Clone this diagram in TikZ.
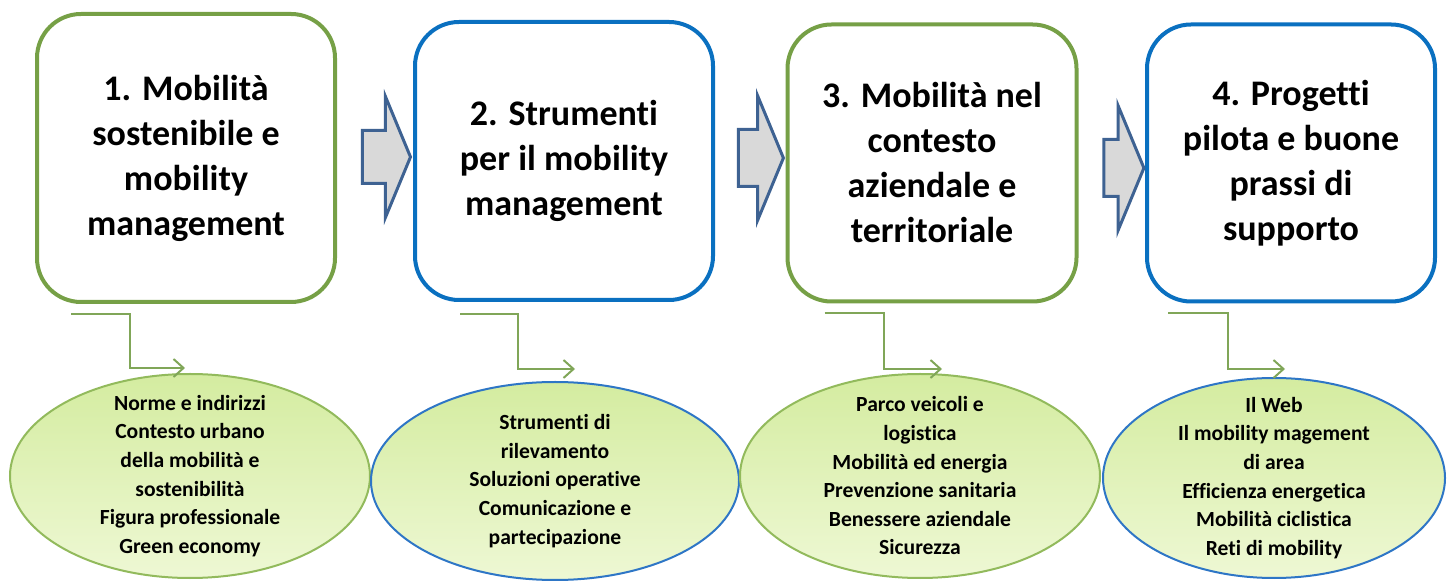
\documentclass[tikz,border=0pt]{standalone}
\usepackage{fontspec}
\setmainfont{Carlito}[Ligatures=NoCommon]
\usepackage{tikz}
\usetikzlibrary{shapes,arrows.meta,calc,positioning}
\definecolor{boxgreen}{RGB}{118,160,70}
\definecolor{boxblue}{RGB}{10,112,192}
\definecolor{arredge}{RGB}{62,98,146}
\definecolor{arrfill}{RGB}{217,217,217}
\definecolor{linkgreen}{RGB}{128,166,88}
\definecolor{ellgreen}{RGB}{146,186,92}
\definecolor{ellblue}{RGB}{46,118,198}
\definecolor{elltop}{RGB}{212,236,160}
\definecolor{ellbot}{RGB}{238,248,212}
\tikzset{
    x=0.5pt,y=-0.5pt,
    step box/.style ={rectangle, rounded corners=22pt, line width=2pt, draw=#1, align=center, inner sep=0pt,
        font=\fontsize{18}{22.5}\selectfont\bfseries},
    topic/.style ={ellipse, line width=1pt, draw=#1, top color=elltop, bottom color=ellbot, inner sep=0pt},
    lbl/.style = {align=center, inner sep=0pt, font=\fontsize{10.8}{14.3}\selectfont\bfseries},
    block arrow/.style={single arrow, draw=arredge, fill=arrfill, line width=1.5pt, inner xsep=0pt,
        single arrow tip angle=135, single arrow head extend=17pt}
    ,
    link/.style={draw=linkgreen, line width=1pt, -{Straight Barb[length=5pt,width=9pt]}}
}
\begin{document}
\begin{tikzpicture}
    \useasboundingbox (0,0) rectangle (1449,581);

    %%Boxes
    \node[step box=boxgreen, minimum width=149pt, minimum height=144pt] (box1) at (186,158)
        {1. Mobilità\\sostenibile e\\mobility\\management};
    \node[step box=boxblue, minimum width=149pt, minimum height=139pt] (box2) at (564,161)
        {2. Strumenti\\per il mobility\\management};
    \node[step box=boxgreen, minimum width=144.5pt, minimum height=138.5pt] (box3) at (932,163)
        {3. Mobilità nel\\contesto\\aziendale e\\territoriale};
    \node[step box=boxblue, minimum width=144pt, minimum height=138.5pt] (box4) at (1291,163)
        {4. Progetti\\pilota e buone\\prassi di\\supporto};

    %%Block arrows
    \node[block arrow, minimum height=24pt, inner ysep=12.5pt] (arr1) at (381,157) {};
    \node[block arrow, minimum height=22.5pt, inner ysep=13.5pt] (arr2) at (755,158) {};
    \node[block arrow, minimum height=20pt, inner ysep=13.5pt] (arr3) at (1118,168) {};

    %%Topics
    \node[topic=ellgreen, minimum width=180pt, minimum height=102pt,
        label={[lbl]center:{Norme e indirizzi\\Contesto urbano\\della mobilità e\\sostenibilità\\Figura professionale\\Green economy}}]
        (ell1) at (190,476) {};
    \node[topic=ellblue, minimum width=184pt, minimum height=99pt,
        label={[lbl]center:{Strumenti di\\rilevamento\\Soluzioni operative\\Comunicazione e\\partecipazione}}]
        (ell2) at (555,481) {};
    \node[topic=ellgreen, minimum width=180pt, minimum height=102pt,
        label={[lbl]center:{Parco veicoli e\\logistica\\Mobilità ed energia\\Prevenzione sanitaria\\Benessere aziendale\\Sicurezza}}]
        (ell3) at (920,476) {};
    \node[topic=ellblue, minimum width=171pt, minimum height=100pt,
        label={[lbl]center:{Il Web\\Il mobility magement\\di area\\Efficienza energetica\\Mobilità ciclistica\\Reti di mobility}}]
        (ell4) at (1274,478) {};

    % Elbow links
    \coordinate (s1) at ($(box1.south west)+(36,10)$);
    \coordinate (s2) at ($(box2.south west)+(47,12)$);
    \coordinate (s3) at ($(box3.south west)+(39,10)$);
    \coordinate (s4) at ($(box4.south west)+(23,10)$);
    \path[link] (s1) -| ($(ell1.north)+(-60,-5)$) -- ($(ell1.north)+(-5,-5)$);
    \path[link] (s2) -| ($(ell2.north)+(-37,-12)$) -- ($(ell2.north)+(20,-12)$);
    \path[link] (s3) -| ($(ell3.north)+(-36,-4)$) -- ($(ell3.north)+(22,-4)$);
    \path[link] (s4) -| ($(ell4.north)+(-46,-8)$) -- ($(ell4.north)+(11,-8)$);
\end{tikzpicture}
\end{document}
